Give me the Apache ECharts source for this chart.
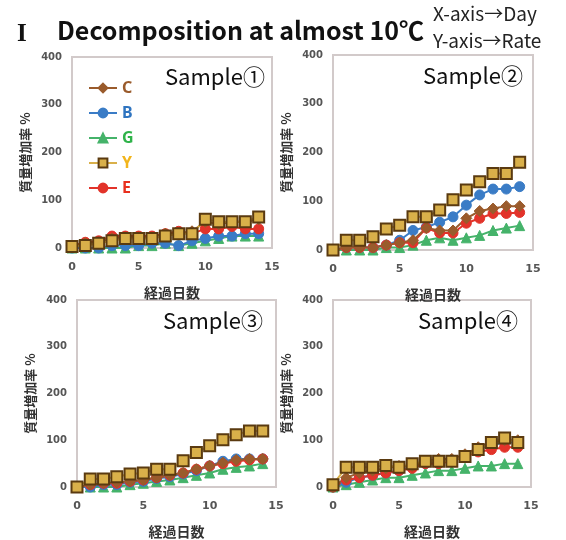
<!DOCTYPE html>
<html><head><meta charset="utf-8">
<script src="https://cdn.jsdelivr.net/npm/echarts@6/dist/echarts.min.js"></script>
<style>html,body{margin:0;padding:0;background:#fff}#c{width:566px;height:540px}</style>
</head><body><div id="c"></div>
<script>
const days = [0,1,2,3,4,5,6,7,8,9,10,11,12,13,14];
const seriesNames = ['C','B','G','Y','E'];
const xTicks = [0,5,10,15];
const yTicks = [0,100,200,300,400];
// Sample 1
const s1C = [5,10,12,20,22,22,22,30,30,35,55,50,55,55,60];
const s1B = [0,0,0,5,5,5,10,10,5,15,20,25,25,30,30];
const s1G = [0,0,0,0,0,5,5,10,5,10,15,20,25,25,25];
const s1Y = [3,5,10,15,20,20,20,25,30,30,60,55,55,55,65];
const s1E = [5,12,15,25,25,25,25,30,35,30,40,40,45,40,40];
// Sample 2
const s2C = [0,5,5,5,10,15,20,45,40,40,65,80,85,90,90];
const s2B = [0,5,5,5,10,20,40,47,57,68,92,113,125,125,130];
const s2G = [0,0,0,0,5,5,10,20,25,20,25,30,40,45,50];
const s2Y = [0,20,20,27,43,51,68,68,82,103,123,140,157,157,180];
const s2E = [0,5,5,5,10,15,15,45,35,35,55,65,75,75,77];
// Sample 3
const s3C = [0,5,8,10,12,15,20,25,30,38,45,52,58,60,60];
const s3B = [0,0,5,5,10,12,18,22,28,35,45,55,60,60,60];
const s3G = [0,0,0,0,5,8,12,15,20,25,30,38,42,45,50];
const s3Y = [0,17,17,22,28,30,38,38,56,74,88,101,112,120,120];
const s3E = [0,5,8,8,12,15,20,25,30,38,45,50,55,58,60];
// Sample 4
const s4C = [0,20,30,35,40,45,45,55,60,60,70,85,95,100,100];
const s4B = [0,10,20,25,30,35,45,50,55,55,65,80,90,95,95];
const s4G = [0,5,10,15,20,20,25,30,35,35,40,45,45,50,50];
const s4Y = [5,42,42,42,46,42,50,55,55,55,65,80,95,105,95];
const s4E = [0,15,20,25,30,35,40,50,50,55,65,75,80,85,85];
const panelTitles = ['Sample①','Sample②','Sample③','Sample④'];

const panels = [
  {C:s1C,B:s1B,G:s1G,Y:s1Y,E:s1E},
  {C:s2C,B:s2B,G:s2G,Y:s2Y,E:s2E},
  {C:s3C,B:s3B,G:s3G,Y:s3Y,E:s3E},
  {C:s4C,B:s4B,G:s4G,Y:s4Y,E:s4E}
];
const grids = [
  {left:72, top:57, width:200, height:191},
  {left:333, top:55, width:200, height:195},
  {left:77, top:300, width:199, height:190},
  {left:333, top:300, width:198, height:192}
];
const styles = {
  C:{color:'#9a5b2c', symbol:'diamond', size:11, border:'#9a5b2c', text:'#9a5b2c'},
  B:{color:'#3a7cc6', symbol:'circle', size:10, border:'#3a7cc6', text:'#2f74c0'},
  G:{color:'#45b36a', symbol:'triangle', size:10, border:'#45b36a', text:'#2fb34a'},
  Y:{color:'#d9b04a', symbol:'rect', size:11, border:'#5a3a10', text:'#f2b51c'},
  E:{color:'#e2332a', symbol:'circle', size:10, border:'#e2332a', text:'#e8301e'}
};
const drawOrder = ['G','B','E','C','Y'];

const option = {
  animation:false,
  backgroundColor:'#fff',
  grid: grids.map(g => Object.assign({show:true, borderColor:'#d2caca', borderWidth:2, backgroundColor:'#fff'}, g)),
  xAxis: grids.map((g,i) => ({
    gridIndex:i, type:'value', min:0, max:15, interval:5,
    name:'経過日数', nameLocation:'middle', nameGap:38,
    nameTextStyle:{fontSize:14, fontWeight:'bold', color:'#333', fontFamily:'Noto Sans CJK JP'},
    axisLine:{show:true, lineStyle:{color:'#d2caca', width:2}},
    axisTick:{show:false}, splitLine:{show:false},
    axisLabel:{fontSize:11, fontWeight:'bold', color:'#555', margin:14, fontFamily:'DejaVu Sans'}
  })),
  yAxis: grids.map((g,i) => ({
    gridIndex:i, type:'value', min:0, max:400, interval:100,
    name:'質量増加率 %', nameLocation:'middle', nameGap:40, nameRotate:90,
    nameTextStyle:{fontSize:13, fontWeight:'bold', color:'#333', fontFamily:'Noto Sans CJK JP'},
    axisLine:{show:true, lineStyle:{color:'#d2caca', width:2}},
    axisTick:{show:false}, splitLine:{show:false},
    axisLabel:{fontSize:10, fontWeight:'bold', color:'#555', margin:10, fontFamily:'DejaVu Sans'}
  })),
  legend: {
    orient:'vertical', left:86, top:76, itemGap:9, itemWidth:28, itemHeight:11,
    data: seriesNames.map(n => ({name:n, textStyle:{color:styles[n].text, fontSize:16, fontWeight:'bold', fontFamily:'Noto Sans'}})),
    backgroundColor:'rgba(255,255,255,0.9)', padding:[4,10,4,2]
  },
  graphic: [
    {type:'text', left:17, top:22, style:{text:'I', font:'bold 25px "Liberation Serif"', fill:'#111'}},
    {type:'text', left:57, top:18, style:{text:'Decomposition at almost 10℃', font:'bold 25px "Noto Sans CJK JP"', fill:'#111'}},
    {type:'text', left:433, top:4, style:{text:'X-axis→Day', font:'19px "Noto Sans CJK JP"', fill:'#222'}},
    {type:'text', left:433, top:31, style:{text:'Y-axis→Rate', font:'19px "Noto Sans CJK JP"', fill:'#222'}},
    {type:'text', left:165, top:66, style:{text:panelTitles[0], font:'22px "Noto Sans CJK JP"', fill:'#111'}},
    {type:'text', left:423, top:65, style:{text:panelTitles[1], font:'22px "Noto Sans CJK JP"', fill:'#111'}},
    {type:'text', left:163, top:310, style:{text:panelTitles[2], font:'22px "Noto Sans CJK JP"', fill:'#111'}},
    {type:'text', left:418, top:310, style:{text:panelTitles[3], font:'22px "Noto Sans CJK JP"', fill:'#111'}}
  ],
  series: []
};
panels.forEach((p,i) => {
  drawOrder.forEach(n => {
    const st = styles[n];
    option.series.push({
      name:n, type:'line', xAxisIndex:i, yAxisIndex:i,
      data: days.map((d,k) => [d, p[n][k]]),
      symbol:st.symbol, symbolSize:st.size,
      lineStyle:{color:st.color, width:2},
      itemStyle:{color:st.color, borderColor:st.border, borderWidth: n==='Y'?2:1},
      z: 2
    });
  });
});
const chart = echarts.init(document.getElementById('c'), null, {renderer:'canvas'});
chart.setOption(option);
</script></body></html>
